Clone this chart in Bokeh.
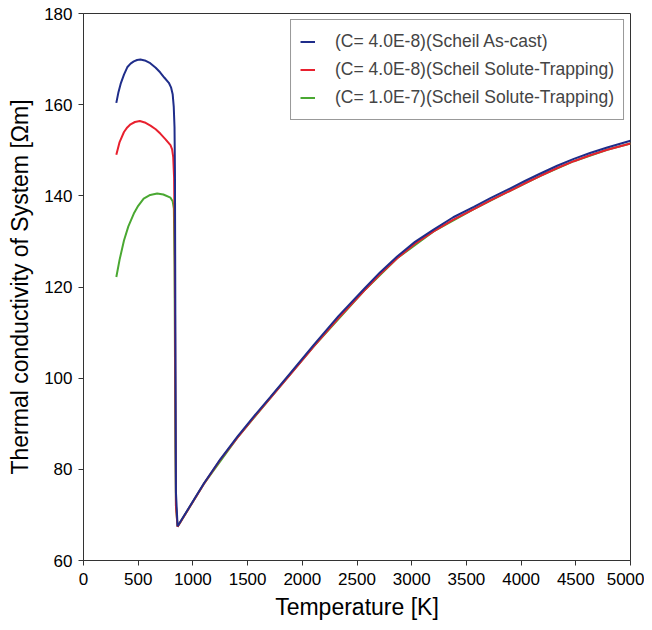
from bokeh.plotting import figure
from bokeh.embed import file_html
from bokeh.resources import INLINE
from bokeh.models import Range1d, FixedTicker, Legend, LegendItem

# ---- data ----
blue_T = [300, 320, 340, 370, 400, 430, 460, 490, 520, 560, 610, 660, 700, 740, 780, 800, 815, 825,
          832, 836, 840, 845, 860,
          1100, 1250, 1405, 1550, 1709, 1900, 2105, 2330, 2562, 2710, 2867, 3030, 3200, 3380,
          3568, 3720, 3873, 4030, 4177, 4330, 4482, 4630, 4787, 5000]
blue_V = [160.4, 162.8, 164.6, 166.6, 168.2, 169.0, 169.5, 169.8, 169.9, 169.7, 169.1, 168.1, 167.1,
          165.9, 164.8, 163.8, 162.3, 159.5,
          155.0, 145.0, 110.0, 75.0, 67.5,
          76.9, 82.2, 87.1, 91.4, 95.9, 101.4, 107.3, 113.6, 119.5, 123.2, 126.7, 129.9, 132.6, 135.3,
          137.6, 139.5, 141.3, 143.2, 144.9, 146.6, 148.1, 149.4, 150.6, 152.1]

red_T = [300, 330, 370, 400, 430, 470, 515, 560, 612, 660, 704, 750, 795, 810, 820,
         828, 834, 840, 845, 860,
         1100, 1250, 1405, 1550, 1709, 1900, 2105, 2330, 2562, 2710, 2867, 3030, 3200, 3380,
         3568, 3720, 3873, 4030, 4177, 4330, 4482, 4630, 4787, 5000]
red_V = [149.0, 151.8, 154.0, 155.0, 155.7, 156.2, 156.4, 156.1, 155.4, 154.6, 153.6, 152.4, 151.1,
         150.2, 148.5,
         144.0, 130.0, 95.0, 72.0, 67.4,
         76.8, 82.1, 86.9, 91.2, 95.7, 101.1, 107.0, 113.2, 119.1, 122.8, 126.3, 129.5, 132.2, 134.8,
         137.1, 139.0, 140.8, 142.7, 144.4, 146.1, 147.6, 148.9, 150.1, 151.5]

green_T = [300, 330, 370, 410, 460, 500, 550, 610, 673, 730, 795, 815, 826,
           832, 836, 840, 845, 860,
           1100, 1405, 1709, 2105, 2562, 2867, 3200, 3568, 3873, 4177, 4482, 4787, 5000]
green_V = [122.2, 126.0, 130.2, 133.3, 136.1, 137.8, 139.4, 140.2, 140.5, 140.3, 139.6, 138.8, 137.2,
           125.0, 105.0, 85.0, 72.0, 67.4,
           76.8, 86.9, 95.7, 107.0, 119.1, 126.3, 132.2, 137.1, 140.8, 144.4, 147.6, 150.1, 151.5]

labels = ["(C= 4.0E-8)(Scheil As-cast)",
          "(C= 4.0E-8)(Scheil Solute-Trapping)",
          "(C= 1.0E-7)(Scheil Solute-Trapping)"]
x_ticks = [0, 500, 1000, 1500, 2000, 2500, 3000, 3500, 4000, 4500, 5000]
y_ticks = [60, 80, 100, 120, 140, 160, 180]

FONT = "Liberation Sans"

p = figure(width=644, height=622, output_backend="svg", toolbar_location=None,
           x_range=Range1d(0, 5000), y_range=Range1d(60, 180),
           frame_width=547, frame_height=547,
           min_border_left=83, min_border_right=14, min_border_top=13, min_border_bottom=62)

p.xgrid.visible = False
p.ygrid.visible = False
p.outline_line_color = "#333333"
p.outline_line_width = 1

for ax in (p.xaxis[0], p.yaxis[0]):
    ax.major_label_text_font = FONT
    ax.major_label_text_font_size = "17px"
    ax.major_label_text_color = "black"
    ax.axis_label_text_font = FONT
    ax.axis_label_text_font_style = "normal"
    ax.axis_label_text_color = "black"
    ax.axis_line_color = "#333333"
    ax.major_tick_line_color = "#333333"
    ax.major_tick_out = 5
    ax.major_tick_in = 0
    ax.minor_tick_line_color = None

p.xaxis.ticker = FixedTicker(ticks=x_ticks)
p.yaxis.ticker = FixedTicker(ticks=y_ticks)
p.xaxis.axis_label = "Temperature [K]"
p.yaxis.axis_label = "Thermal conductivity of System [Ωm]"
p.xaxis.axis_label_text_font_size = "23px"
p.yaxis.axis_label_text_font_size = "23px"
p.xaxis.major_label_standoff = 7
p.yaxis.major_label_standoff = 6
p.xaxis.axis_label_standoff = 6
p.yaxis.axis_label_standoff = 8

rg = p.line(green_T, green_V, line_color="#4aa832", line_width=2)
rr = p.line(red_T, red_V, line_color="#e8202e", line_width=2)
rb = p.line(blue_T, blue_V, line_color="#1f2d8a", line_width=2)

legend = Legend(items=[LegendItem(label=labels[0], renderers=[rb]),
                       LegendItem(label=labels[1], renderers=[rr]),
                       LegendItem(label=labels[2], renderers=[rg])],
                location="top_right")
legend.margin = 6
legend.padding = 9
legend.spacing = 3
legend.glyph_width = 15
legend.glyph_height = 25
legend.label_height = 25
legend.label_standoff = 20
legend.label_text_font = FONT
legend.label_text_font_size = "17.5px"
legend.border_line_color = "#333333"
legend.border_line_width = 1
legend.background_fill_alpha = 1
p.add_layout(legend)

open("out.html", "w").write(file_html(p, INLINE))
